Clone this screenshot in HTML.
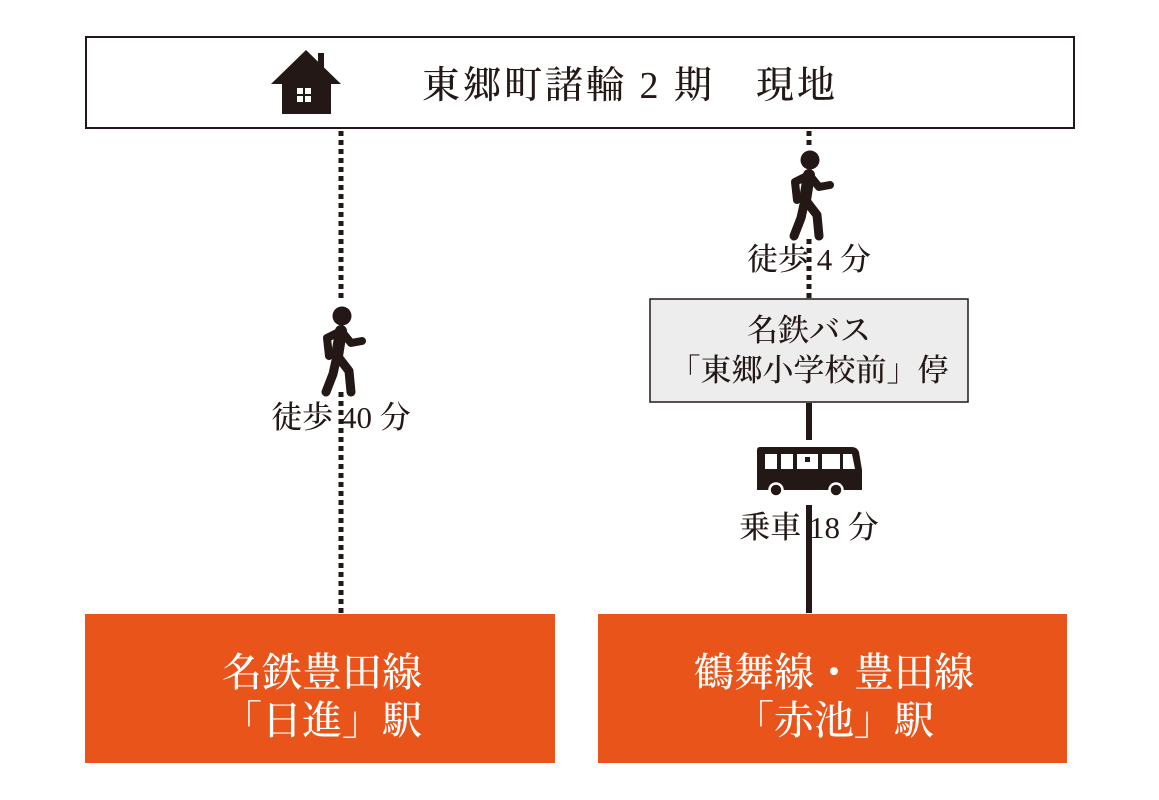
<!DOCTYPE html>
<html><head><meta charset="utf-8"><style>
html,body{margin:0;padding:0;background:#fff;}
svg{display:block;}
text{font-family:"Liberation Serif","Noto Serif CJK JP","Noto Serif CJK SC",serif;font-weight:500;}
</style></head><body>
<svg width="1159" height="800" viewBox="0 0 1159 800" xmlns="http://www.w3.org/2000/svg">
<defs>
<g id="walker" fill="none" stroke="#231815" stroke-linecap="round" stroke-linejoin="round">
<circle cx="0" cy="0" r="9.5" fill="#231815" stroke="none"/>
<path d="M-1 15 L-5 40" stroke-width="12"/>
<path d="M-3 16 L-15 22 L-13 40" stroke-width="8"/>
<path d="M1 17 L9 27 L20 25" stroke-width="8"/>
<path d="M-5 40 L-9 58 L-16 76" stroke-width="9"/>
<path d="M-3 42 L7 55 L9 76" stroke-width="9"/>
</g>
</defs>
<rect x="86" y="37" width="988" height="91" fill="#fff" stroke="#231815" stroke-width="2"/>
<g fill="#231815">
<polygon points="306,50 341,84 331,84 331,114 282,114 282,84 271,84"/>
<rect x="318" y="53" width="6" height="18"/>
</g>
<g fill="#fff"><rect x="297" y="88" width="6" height="6"/><rect x="305" y="88" width="6" height="6"/><rect x="297" y="96" width="6" height="6"/><rect x="305" y="96" width="6" height="6"/></g>
<text x="630" y="98" font-size="38" letter-spacing="3" text-anchor="middle" fill="#231815">東郷町諸輪 2 期　現地</text>
<line x1="341" y1="131" x2="341" y2="613" stroke="#231815" stroke-width="5" stroke-dasharray="5,4"/>
<rect x="300" y="300" width="80" height="92" fill="#fff"/>
<use href="#walker" x="342" y="316"/>
<text x="341" y="428" font-size="31" text-anchor="middle" fill="#231815">徒歩 40 分</text>
<line x1="809" y1="131" x2="809" y2="298" stroke="#231815" stroke-width="5" stroke-dasharray="5,4"/>
<rect x="778" y="145" width="64" height="90" fill="#fff"/>
<use href="#walker" x="810" y="160"/>
<text x="809" y="270" font-size="31" text-anchor="middle" fill="#231815">徒歩 4 分</text>
<rect x="650" y="299" width="318" height="103" fill="#ededed" stroke="#231815" stroke-width="1.5"/>
<text x="809" y="341" font-size="31" text-anchor="middle" fill="#231815">名鉄バス</text>
<text x="809" y="381" font-size="31" text-anchor="middle" fill="#231815">「東郷小学校前」停</text>
<line x1="809" y1="403" x2="809" y2="613" stroke="#231815" stroke-width="6"/>
<g>
<rect x="750" y="440" width="120" height="65" fill="#fff"/>
<path d="M760 447 L852 447 Q857 447 859 452 L862 470 L862 490 L757 490 L757 450 Q757 447 760 447 Z" fill="#231815"/>
<g fill="#fff">
<rect x="765" y="454" width="12" height="15"/><rect x="781" y="454" width="12" height="15"/>
<rect x="797" y="454" width="21" height="15"/><rect x="822" y="454" width="18" height="15"/>
<path d="M843 454 L852 454 L855 469 L843 469 Z"/>
</g>
<rect x="805" y="457" width="5" height="5" fill="#231815"/>
<circle cx="776" cy="490" r="6.5" fill="#231815" stroke="#fff" stroke-width="2.5"/>
<circle cx="836" cy="490" r="6.5" fill="#231815" stroke="#fff" stroke-width="2.5"/>
</g>
<rect x="735" y="508" width="150" height="36" fill="#fff"/>
<line x1="809" y1="508" x2="809" y2="544" stroke="#231815" stroke-width="6"/>
<text x="809" y="538" font-size="31" text-anchor="middle" fill="#231815">乗車 18 分</text>
<rect x="85" y="614" width="470" height="149" fill="#e8541a"/>
<rect x="598" y="614" width="469" height="149" fill="#e8541a"/>
<g fill="#fff" font-size="40" text-anchor="middle">
<text x="322" y="686">名鉄豊田線</text>
<text x="322" y="734">「日進」駅</text>
<text x="834" y="686">鶴舞線・豊田線</text>
<text x="834" y="734">「赤池」駅</text>
</g>
</svg>
</body></html>
